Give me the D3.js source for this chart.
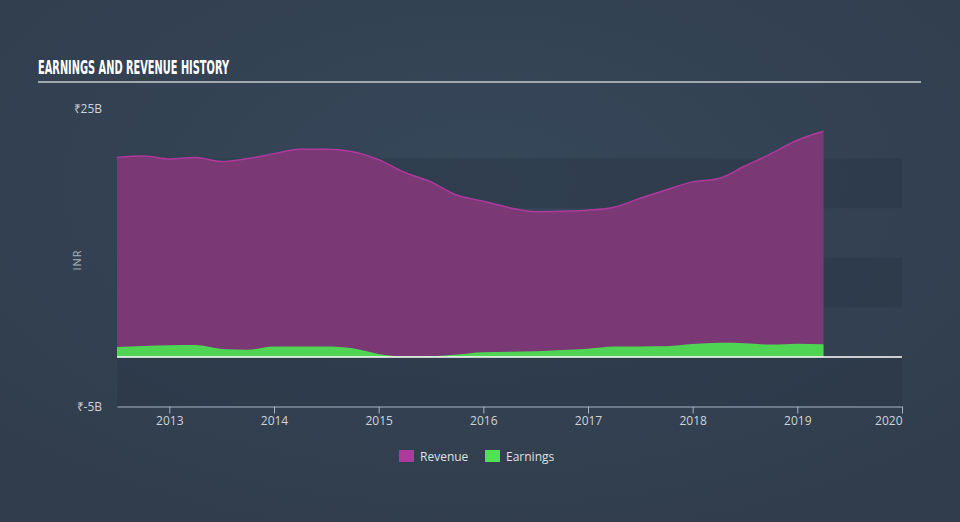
<!DOCTYPE html>
<html>
<head>
<meta charset="utf-8">
<script src="https://cdn.jsdelivr.net/npm/d3@7"></script>
<style>
  body { margin: 0; background: #333f4f; }
  svg { display: block; }
</style>
</head>
<body>
<svg width="960" height="522"></svg>
<script>
// quarter ends, as fractional years
var quarters = [2012.5, 2012.75, 2013, 2013.25, 2013.5, 2013.75, 2014, 2014.25, 2014.5, 2014.75,
                2015, 2015.25, 2015.5, 2015.75, 2016, 2016.25, 2016.5, 2016.75, 2017, 2017.25,
                2017.5, 2017.75, 2018, 2018.25, 2018.5, 2018.75, 2019, 2019.25];
// billions INR
var revenue = [20.1, 20.25, 19.95, 20.1, 19.7, 20.0, 20.5, 20.95, 20.95, 20.7,
               19.9, 18.6, 17.65, 16.3, 15.7, 15.05, 14.65, 14.7, 14.8, 15.1,
               16.0, 16.85, 17.65, 18.0, 19.25, 20.5, 21.85, 22.75];
var earnings = [1.0, 1.1, 1.17, 1.2, 0.8, 0.72, 1.04, 1.04, 1.04, 0.87,
                0.3, 0.06, 0.08, 0.25, 0.48, 0.52, 0.58, 0.7, 0.82, 1.04,
                1.06, 1.08, 1.3, 1.42, 1.38, 1.24, 1.34, 1.27];
var yearTicks = [2013, 2014, 2015, 2016, 2017, 2018, 2019, 2020];
var yLabels = [25, -5];
var bandStarts = [15, 5, -5];

var svg = d3.select("svg");

var defs = svg.append("defs");
var grad = defs.append("radialGradient").attr("id", "bg")
    .attr("cx", "50%").attr("cy", "35%").attr("r", "70%");
grad.append("stop").attr("offset", "0%").attr("stop-color", "#36475a");
grad.append("stop").attr("offset", "100%").attr("stop-color", "#313d4c");
svg.append("rect").attr("width", 960).attr("height", 522).attr("fill", "url(#bg)");

var x = d3.scaleLinear().domain([2012.5, 2020]).range([117, 902]);
var y = d3.scaleLinear().domain([-5, 25]).range([406.5, 109]);

// title
svg.append("text")
    .attr("x", 38).attr("y", 74)
    .attr("font-family", "'Liberation Sans Narrow', 'DejaVu Sans Condensed', sans-serif")
    .attr("font-weight", "bold")
    .attr("font-size", 19)
    .attr("fill", "#ffffff")
    .attr("textLength", 191)
    .attr("lengthAdjust", "spacingAndGlyphs")
    .text("EARNINGS AND REVENUE HISTORY");
svg.append("line")
    .attr("x1", 38).attr("x2", 921).attr("y1", 82).attr("y2", 82)
    .attr("stroke", "#a3a8ae").attr("stroke-width", 2);

// bands
svg.selectAll(".band").data(bandStarts).enter().append("rect")
    .attr("class", "band")
    .attr("x", x(2012.5))
    .attr("width", x(2020) - x(2012.5))
    .attr("y", function(d){ return y(d + 5); })
    .attr("height", function(d){ return y(d) - y(d + 5); })
    .attr("fill", "#2a3645").attr("opacity", 0.5);

var data = quarters.map(function(q, i){ return {t: q, r: revenue[i], e: earnings[i]}; });

var revArea = d3.area().curve(d3.curveMonotoneX)
    .x(function(d){ return x(d.t); })
    .y0(y(0))
    .y1(function(d){ return y(d.r); });
var revLine = d3.line().curve(d3.curveMonotoneX)
    .x(function(d){ return x(d.t); })
    .y(function(d){ return y(d.r); });
var earnArea = d3.area().curve(d3.curveMonotoneX)
    .x(function(d){ return x(d.t); })
    .y0(y(0))
    .y1(function(d){ return y(d.e); });

svg.append("path").datum(data).attr("d", revArea)
    .attr("fill", "#7a3875");
svg.append("path").datum(data).attr("d", revLine)
    .attr("fill", "none").attr("stroke", "#b0399d").attr("stroke-width", 1.5);
svg.append("path").datum(data).attr("d", earnArea)
    .attr("fill", "#4fd553");

// zero line
svg.append("line")
    .attr("x1", x(2012.5)).attr("x2", x(2020))
    .attr("y1", y(0)).attr("y2", y(0))
    .attr("stroke", "#ffffff").attr("stroke-width", 1.5);

// x axis
var xAxis = svg.append("g")
    .attr("transform", "translate(0," + y(-5) + ")")
    .call(d3.axisBottom(x).tickValues(yearTicks).tickFormat(d3.format("d")).tickSize(7).tickSizeOuter(0));
xAxis.select(".domain").attr("stroke", "#a6b4c4");
xAxis.selectAll(".tick line").attr("stroke", "#a6b4c4");
xAxis.selectAll(".tick text")
    .attr("fill", "#cfd4da")
    .attr("font-family", "'Open Sans', sans-serif")
    .attr("font-size", 12)
    .attr("dy", "0.35em")
    .attr("y", 14)
    .attr("text-anchor", function(d){ return d === 2020 ? "end" : "middle"; });

// y labels
svg.selectAll(".ylab").data(yLabels).enter().append("text")
    .attr("class", "ylab")
    .attr("x", 102)
    .attr("y", function(d){ return y(d); })
    .attr("dy", "0.35em")
    .attr("text-anchor", "end")
    .attr("font-family", "'Open Sans', sans-serif")
    .attr("font-size", 12)
    .attr("fill", "#cfd4da")
    .text(function(d){ return "₹" + d + "B"; });

svg.append("text")
    .attr("transform", "translate(81,260) rotate(-90)")
    .attr("text-anchor", "middle")
    .attr("font-family", "'Open Sans', sans-serif")
    .attr("font-size", 11)
    .attr("fill", "#aab2bc")
    .attr("letter-spacing", 1)
    .text("INR");

// legend
var legend = [{name: "Revenue", color: "#ae3a9c", x: 399}, {name: "Earnings", color: "#4fe253", x: 485}];
var lg = svg.selectAll(".lg").data(legend).enter().append("g")
    .attr("class", "lg")
    .attr("transform", function(d){ return "translate(" + d.x + ",450)"; });
lg.append("rect").attr("width", 15).attr("height", 12).attr("fill", function(d){ return d.color; });
lg.append("text")
    .attr("x", 21).attr("y", 11)
    .attr("font-family", "'Open Sans', sans-serif")
    .attr("font-size", 12)
    .attr("fill", "#dde1e6")
    .text(function(d){ return d.name; });
</script>
</body>
</html>
